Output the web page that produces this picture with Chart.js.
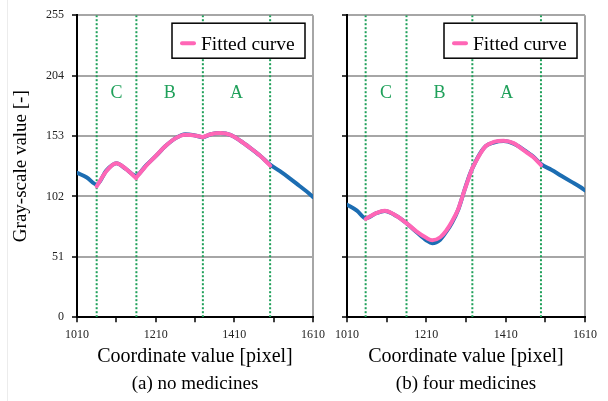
<!DOCTYPE html>
<html><head><meta charset="utf-8">
<script src="https://cdn.jsdelivr.net/npm/chart.js@4/dist/chart.umd.min.js"></script>
<style>
html,body{margin:0;padding:0;background:#fff;}
#wrap{position:relative;width:608px;height:401px;overflow:hidden;background:#fff;}
#edge{position:absolute;left:7px;top:0;width:1px;height:401px;background:#ececec;}
#c1{position:absolute;left:0;top:0;}
#c2{position:absolute;left:330px;top:0;}
</style></head><body>
<div id="wrap"><div id="edge"></div>
<canvas id="c1" width="330" height="401"></canvas>
<canvas id="c2" width="278" height="401"></canvas>
</div>
<script>
// ---- axes / labels ----
const xTickValues = [1010, 1110, 1210, 1310, 1410, 1510, 1610];
const xLabelValues = [1010, 1210, 1410, 1610];
const yTickValues = [0, 51, 102, 153, 204, 255];
const regionNames = ['C', 'B', 'A'];
const regionLabelLevel = 185;
const xTitle = 'Coordinate value [pixel]';
const yTitle = 'Gray-scale value [-]';
const legendLabel = 'Fitted curve';

// ---- (a) no medicines ----
const aCaption = '(a) no medicines';
const aBoundaries = [1060, 1161, 1330, 1501];
const aMeasX = [1010,1035,1060,1085,1110,1135,1160,1185,1210,1235,1260,1285,1310,1330,1350,1375,1400,1425,1450,1475,1500,1525,1550,1575,1600,1610];
const aMeasY = [122,118,112,124,130,125,119.5,128,136,144.5,151,154.5,153.5,152,154.5,155.5,154,149,143,136.5,129,123.5,117.5,111,104.5,101.5];
const aFitCX = [1060,1085,1110,1135,1160];
const aFitCY = [110.5,123.5,130,125,117.5];
const aFitBX = [1160,1185,1210,1235,1260,1285,1310,1330];
const aFitBY = [117.5,127.5,136,144.5,151,154,153.5,152];
const aFitAX = [1330,1350,1375,1400,1425,1450,1475,1501];
const aFitAY = [152,154.5,155.5,154,149,143,136.5,128];

// ---- (b) four medicines ----
const bCaption = '(b) four medicines';
const bBoundaries = [1057, 1160, 1326, 1499];
const bMeasX = [1010,1035,1057,1085,1105,1135,1160,1185,1210,1225,1245,1260,1275,1290,1305,1320,1330,1345,1360,1380,1405,1430,1455,1480,1500,1525,1550,1575,1600,1610];
const bMeasY = [95,90,83.5,88,89.7,85.4,79.3,72,65,62.5,65.5,72,80,90.5,106,121,128.5,138,144.5,147.5,148.7,146.5,141.5,135.5,129,124.5,119.5,114.5,109.5,107];
const bFitCX = [1057,1085,1105,1135,1160];
const bFitCY = [83,88,89.8,85.5,79.5];
const bFitBX = [1160,1185,1210,1225,1245,1260,1275,1290,1305,1320,1326];
const bFitBY = [79.5,72.5,67,65,67.5,73,81,91,106,120.5,126];
const bFitAX = [1326,1345,1360,1380,1405,1430,1455,1480,1499];
const bFitAY = [126,137.5,144.5,148,149,147,141,135,128.5];

// ---- styling ----
const BLUE = '#1c6db2';
const PINK = '#ff66b6';
const GREEN = '#1fa05a';
const GRID = '#a6a6a6';
const FONT = '"Liberation Serif", "Times New Roman", serif';
Chart.defaults.font.family = FONT;
Chart.defaults.color = '#000';

const pts = (xs, ys) => xs.map((x, i) => ({x: x, y: ys[i]}));

const frameLegend = {
  id: 'frameLegend',
  afterDatasetsDraw(chart, args, o) {
    const {ctx, chartArea: ca} = chart;
    const ds = chart.data.datasets.find(d => d.isFit);
    const x1 = ca.right - o.inset - o.width, y1 = ca.top + o.inset;
    ctx.save();
    ctx.fillStyle = '#fff';
    ctx.fillRect(x1, y1, o.width, o.height);
    ctx.strokeStyle = '#000'; ctx.lineWidth = 1.5;
    ctx.strokeRect(x1, y1, o.width, o.height);
    ctx.strokeStyle = ds.borderColor; ctx.lineWidth = 4; ctx.lineCap = 'round';
    ctx.beginPath(); ctx.moveTo(x1 + 10, y1 + 20); ctx.lineTo(x1 + 22, y1 + 20); ctx.stroke();
    ctx.fillStyle = '#000'; ctx.font = '19.5px ' + FONT;
    ctx.textAlign = 'left'; ctx.textBaseline = 'alphabetic';
    ctx.fillText(ds.label, x1 + 29, y1 + 27);
    ctx.restore();
  }
};

const regionLabels = {
  id: 'regionLabels',
  afterDatasetsDraw(chart, args, o) {
    const {ctx, scales} = chart;
    const b = o.bounds;
    ctx.save();
    ctx.fillStyle = GREEN; ctx.font = '18px ' + FONT;
    ctx.textAlign = 'center'; ctx.textBaseline = 'alphabetic';
    for (let i = 0; i < o.names.length; i++) {
      const xp = scales.x.getPixelForValue((b[i] + b[i + 1]) / 2);
      ctx.fillText(o.names[i], xp, scales.y.getPixelForValue(regionLabelLevel));
    }
    ctx.restore();
  }
};

function makeChart(id, measX, measY, fits, bounds, caption, showYLabels, padRight, yWidth) {
  const datasets = [];
  fits.forEach(([fx, fy]) => datasets.push({
    label: legendLabel, isFit: true, data: pts(fx, fy), borderColor: PINK, borderWidth: 4,
    pointRadius: 0, cubicInterpolationMode: 'monotone', borderCapStyle: 'round', borderJoinStyle: 'round'
  }));
  datasets.push({
    label: 'Measured', data: pts(measX, measY), borderColor: BLUE, borderWidth: 4,
    pointRadius: 0, cubicInterpolationMode: 'monotone', borderCapStyle: 'round', borderJoinStyle: 'round'
  });
  bounds.forEach(b => datasets.push({
    label: 'boundary', data: [{x: b, y: yTickValues[0]}, {x: b, y: yTickValues[yTickValues.length - 1]}],
    borderColor: GREEN, borderWidth: 2, borderDash: [2, 2], pointRadius: 0, tension: 0
  }));
  return new Chart(document.getElementById(id), {
    type: 'line',
    data: {datasets},
    plugins: [frameLegend, regionLabels],
    options: {
      responsive: false, animation: false, devicePixelRatio: 1, events: [],
      layout: {padding: {top: 11, right: padRight, bottom: 6, left: 0}},
      plugins: {
        legend: {display: false}, tooltip: {enabled: false},
        subtitle: {display: true, position: 'bottom', fullSize: false, text: caption,
          font: {size: 19, family: FONT}, color: '#000', padding: 0},
        frameLegend: {inset: 8, width: 133, height: 35},
        regionLabels: {names: regionNames, bounds: bounds}
      },
      scales: {
        x: {
          type: 'linear', min: xTickValues[0], max: xTickValues[xTickValues.length - 1],
          afterBuildTicks: s => { s.ticks = xTickValues.map(v => ({value: v})); },
          afterFit: s => { s.height = 55; },
          ticks: {autoSkip: false, maxRotation: 0, padding: 5, color: '#222', font: {size: 12},
            callback: v => xLabelValues.includes(v) ? String(v) : ''},
          grid: {drawOnChartArea: true, lineWidth: 2, tickLength: 5, tickColor: '#000', tickWidth: 1.5,
            color: c => (c.tick && c.tick.value === xTickValues[xTickValues.length - 1]) ? GRID : 'rgba(0,0,0,0)'},
          border: {display: true, color: '#000', width: 2},
          title: {display: true, text: xTitle, font: {size: 20}, color: '#000', padding: {top: 0, bottom: 3}}
        },
        y: {
          type: 'linear', min: yTickValues[0], max: yTickValues[yTickValues.length - 1],
          afterBuildTicks: s => { s.ticks = yTickValues.map(v => ({value: v})); },
          afterFit: s => { s.width = yWidth; },
          ticks: {padding: 8, color: '#222', font: {size: 12},
            callback: v => showYLabels ? String(v) : ''},
          grid: {lineWidth: 2, tickLength: 5, tickColor: '#000', tickWidth: 1.5,
            color: c => (c.tick && c.tick.value === yTickValues[0]) ? 'rgba(0,0,0,0)' : GRID},
          border: {display: true, color: '#000', width: 2},
          title: {display: showYLabels, text: yTitle, font: {size: 19}, color: '#000', padding: {top: 10, bottom: 0}}
        }
      }
    }
  });
}

makeChart('c1', aMeasX, aMeasY, [[aFitCX, aFitCY], [aFitBX, aFitBY], [aFitAX, aFitAY]], aBoundaries, aCaption, true, 15, 77);
makeChart('c2', bMeasX, bMeasY, [[bFitCX, bFitCY], [bFitBX, bFitBY], [bFitAX, bFitAY]], bBoundaries, bCaption, false, 23, 17);
</script>
</body></html>
